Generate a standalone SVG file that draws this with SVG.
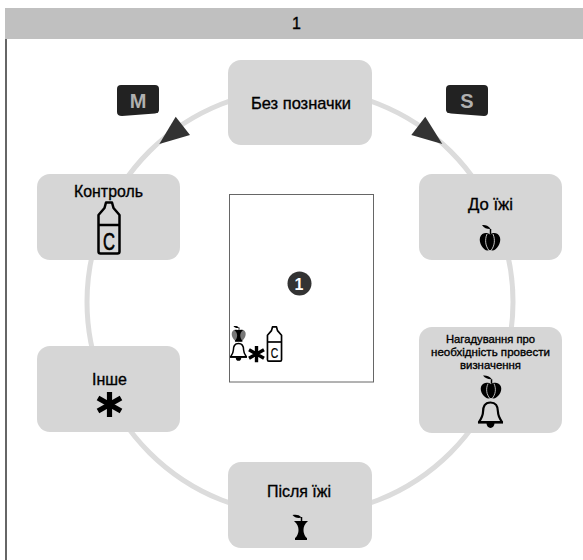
<svg xmlns="http://www.w3.org/2000/svg" xmlns:xlink="http://www.w3.org/1999/xlink" width="583" height="560" viewBox="0 0 583 560">
<style>
text{font-family:"Liberation Sans",Arial,sans-serif;fill:#000;stroke:#000;stroke-width:.35;text-anchor:middle}
.n{fill:#d6d6d6}
.l{font-size:17px}
.s{font-size:11.800px}
.ring{fill:none;stroke:#dcdcdc;stroke-width:5}
.head{fill:#333}
.key{fill:#222}
.kt{font-size:20px;font-weight:bold;fill:#b0b0b0;stroke:none}
.cut{fill:none;stroke:#d6d6d6;stroke-width:.9}
.ink{fill:#000}
.outl{fill:none;stroke:#000;stroke-width:2.200;stroke-linejoin:round}
</style>
<defs>
<path id="appleBody" d="M0-6.500C-3-9-8.500-8.500-10-3.500C-11.500 2-6.500 9.500-2.500 9.500C-1.500 9.500-.8 9 0 9C.8 9 1.500 9.500 2.500 9.500C6.500 9.500 11.500 2 10-3.500C8.500-8.500 3-9 0-6.500Z"/>
<g id="leaf"><path d="M.5-7V-12" stroke="#000" stroke-width="1.500" fill="none"/><path d="M.5-12.500C-2-15.500-5-16.500-8-16C-6-13-3-12-.5-12Z" class="ink"/></g>
<g id="apple"><use xlink:href="#appleBody" href="#appleBody" class="ink"/><use xlink:href="#leaf" href="#leaf"/><path class="cut" d="M-3-7C-5.500-1-4.500 5-1 9.500M3-7C5.500-1 4.500 5 1 9.500"/></g>
<g id="core"><path class="ink" d="M-7-9H7C3.500-6 2.500-3 2.500 0C2.500 3 4 7 6 8V10H-6V8C-4 7-2.500 3-2.500 0C-2.500-3-3.500-6-7-9Z"/><path d="M.5-9V-13" stroke="#000" stroke-width="1.500" fill="none"/><path class="ink" d="M.5-12.500C-2-15.500-5-15.500-8.500-15C-6.500-12.500-3-11.500 .5-12.500Z"/></g>
<g id="bell"><path class="outl" d="M0-12.500C-6-12.500-7.500-8-7.500-3C-7.500 1-9.500 4-11.500 7H11.500C9.500 4 7.500 1 7.500-3C7.500-8 6-12.500 0-12.500Z"/><path d="M-12.500 7.500H12.500" stroke="#000" stroke-width="2.200"/><path class="ink" d="M-4 8A4 5 0 0 0 4 8Z"/></g>
<g id="bottle"><path class="outl" style="stroke-width:2.500" d="M-3-25.500H3L4.500-20L10.500-13V23.500Q10.500 25.500 8.500 25.500H-8.500Q-10.500 25.500-10.500 23.500V-13L-4.500-20Z"/><path d="M-10.500-3H10.500" stroke="#000" stroke-width="2.500"/></g>
<g id="star"><path d="M0-12.500V12.500M-11.500-6.500L11.500 6.500M-11.500 6.500L11.500-6.500" stroke="#000" stroke-width="5.200" fill="none"/></g>
</defs>
<rect x="5" y="8" width="578" height="31" fill="#c0c0c0"/>
<path d="M6 39V560" stroke="#333" stroke-width="1.500"/>
<text x="296.500" y="29" style="font-size:16px">1</text>
<g id="connectors">
<circle class="ring" cx="300" cy="302" r="213"/>
<path class="head" d="M175.700 116.700L190 135L159.300 144Z"/>
<path class="head" d="M425.300 116.700L411.300 135L442.300 144Z"/>
</g>
<g id="node-none"><rect class="n" x="228" y="60" width="144" height="85" rx="13"/><text class="l" x="301" y="109" textLength="100" lengthAdjust="spacingAndGlyphs">Без позначки</text></g>
<g id="node-before"><rect class="n" x="419" y="174" width="143" height="86" rx="13"/><text class="l" x="490.500" y="210" textLength="45" lengthAdjust="spacingAndGlyphs">До їжі</text><use xlink:href="#apple" href="#apple" x="490" y="241"/></g>
<g id="node-reminder"><rect class="n" x="419" y="327" width="143" height="106" rx="13"/><text class="s" x="490.500" y="343" textLength="89" lengthAdjust="spacingAndGlyphs">Нагадування про</text><text class="s" x="490.500" y="356" textLength="119" lengthAdjust="spacingAndGlyphs">необхідність провести</text><text class="s" x="490.500" y="369" textLength="61" lengthAdjust="spacingAndGlyphs">визначення</text><use xlink:href="#apple" href="#apple" transform="translate(491 390) scale(1 .9)"/><use xlink:href="#bell" href="#bell" x="490.500" y="415"/></g>
<g id="node-after"><rect class="n" x="228" y="462" width="144" height="86" rx="13"/><text class="l" x="299" y="497" textLength="64" lengthAdjust="spacingAndGlyphs">Після їжі</text><use xlink:href="#core" href="#core" x="301" y="530"/></g>
<g id="node-other"><rect class="n" x="37" y="346" width="143" height="86" rx="13"/><text class="l" x="109.500" y="385" textLength="35" lengthAdjust="spacingAndGlyphs">Інше</text><use xlink:href="#star" href="#star" x="109.500" y="404.500"/></g>
<g id="node-control"><rect class="n" x="37" y="174" width="143" height="86" rx="13"/><text class="l" x="108.500" y="197" textLength="69" lengthAdjust="spacingAndGlyphs">Контроль</text><use xlink:href="#bottle" href="#bottle" x="109" y="228"/><text x="109" y="250" textLength="12" lengthAdjust="spacingAndGlyphs" style="font-size:23px;stroke-width:.6">C</text></g>
<g id="key-m"><path class="key" d="M121 85H155Q159 85 159 89V110Q159 113 155 113.500L122 116Q117 116 117 112V89Q117 85 121 85Z"/><text class="kt" x="138" y="108">M</text></g>
<g id="key-s"><path class="key" d="M450 85H484Q488 85 488 89V112Q488 116 484 116L451 113.500Q446 113 446 110V89Q446 85 450 85Z"/><text class="kt" x="467" y="108">S</text></g>
<g id="display">
<rect x="229.500" y="194.500" width="144" height="187.500" fill="#fff" stroke="#666"/>
<circle cx="299.500" cy="283.500" r="12" fill="#333"/>
<text x="299" y="289.500" style="font-size:16px;font-weight:bold;fill:#fff;stroke:none">1</text>
<use xlink:href="#appleBody" href="#appleBody" fill="#777" transform="translate(238.700 335) scale(.68)"/>
<use xlink:href="#core" href="#core" transform="translate(238.700 335.500) scale(.62)"/>
<use xlink:href="#bell" href="#bell" transform="translate(238.500 352) scale(.68)"/>
<use xlink:href="#star" href="#star" transform="translate(256.500 354) scale(.65)"/>
<use xlink:href="#bottle" href="#bottle" transform="translate(274.500 344) scale(.67)"/>
<text x="274.500" y="358" style="font-size:14px;stroke-width:.2" textLength="7.500" lengthAdjust="spacingAndGlyphs">C</text>
</g>
</svg>
